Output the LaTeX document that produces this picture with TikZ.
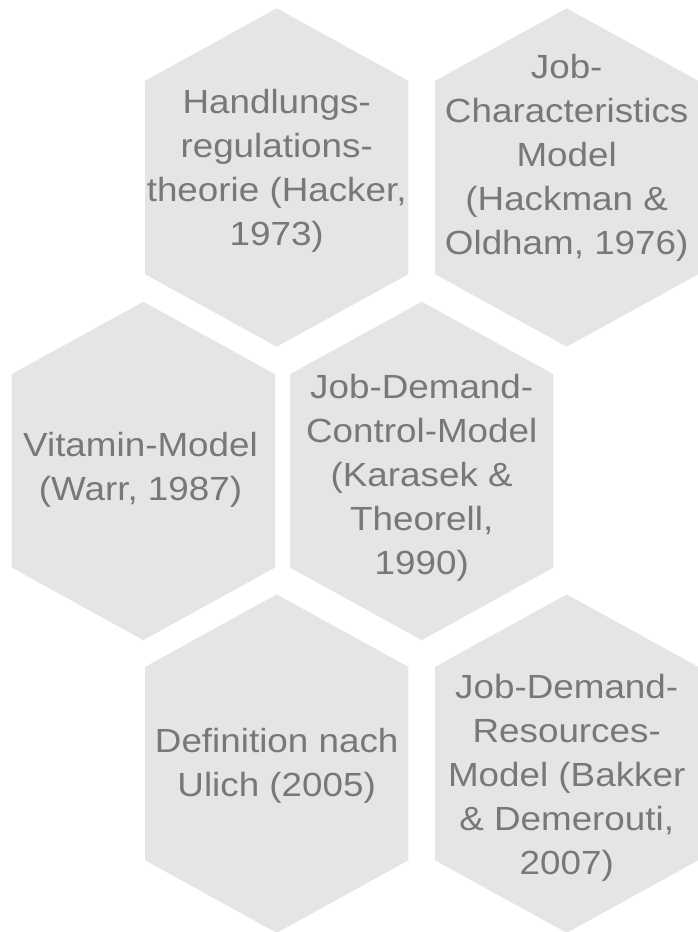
\documentclass[tikz,border=0pt]{standalone}
\usepackage{fontspec}
\setmainfont{Liberation Sans}[FakeStretch=1.1]
\definecolor{hexgray}{HTML}{E5E5E5}
\definecolor{labelgray}{HTML}{787878}
\tikzset{
  hexa/.pic={
    \fill[hexgray] (0,-169.2) -- ++(131.7,72.5) -- ++(0,193.4) -- ++(-131.7,72.5)
      -- ++(-131.7,-72.5) -- ++(0,-193.4) -- cycle;
  },
  hexlabel/.style={inner sep=0pt, align=center, text=labelgray,
    font=\fontsize{25.1pt}{33pt}\selectfont}
}
\begin{document}
\begin{tikzpicture}[x=0.75pt,y=-0.75pt]
\useasboundingbox (0,0) rectangle (698,932);
% honeycomb cells
\pic at (276.7,177.5) {hexa};
\pic at (566.7,177.5) {hexa};
\pic at (143.3,470.9) {hexa};
\pic at (421.7,470.9) {hexa};
\pic at (276.7,763.6) {hexa};
\pic at (566.7,763.6) {hexa};
% labels
\node[hexlabel] (hacker) at (276.7,170.5)
  {\strut Handlungs-\\regulations-\\theorie (Hacker,\\1973)\strut};
\node[hexlabel] (hackman) at (566.7,157.5)
  {\strut Job-\\Characteristics\\Model\\(Hackman \&\\Oldham, 1976)\strut};
\node[hexlabel] (warr) at (140.5,469.2)
  {\strut Vitamin-Model\\(Warr, 1987)\strut};
\node[hexlabel] (karasek) at (421.7,477.5)
  {\strut Job-Demand-\\Control-Model\\(Karasek \&\\Theorell,\\1990)\strut};
\node[hexlabel] (ulich) at (276.7,765.2)
  {\strut Definition nach\\Ulich (2005)\strut};
\node[hexlabel] (bakker) at (566.7,777.5)
  {\strut Job-Demand-\\Resources-\\Model (Bakker\\\& Demerouti,\\2007)\strut};
\end{tikzpicture}
\end{document}
